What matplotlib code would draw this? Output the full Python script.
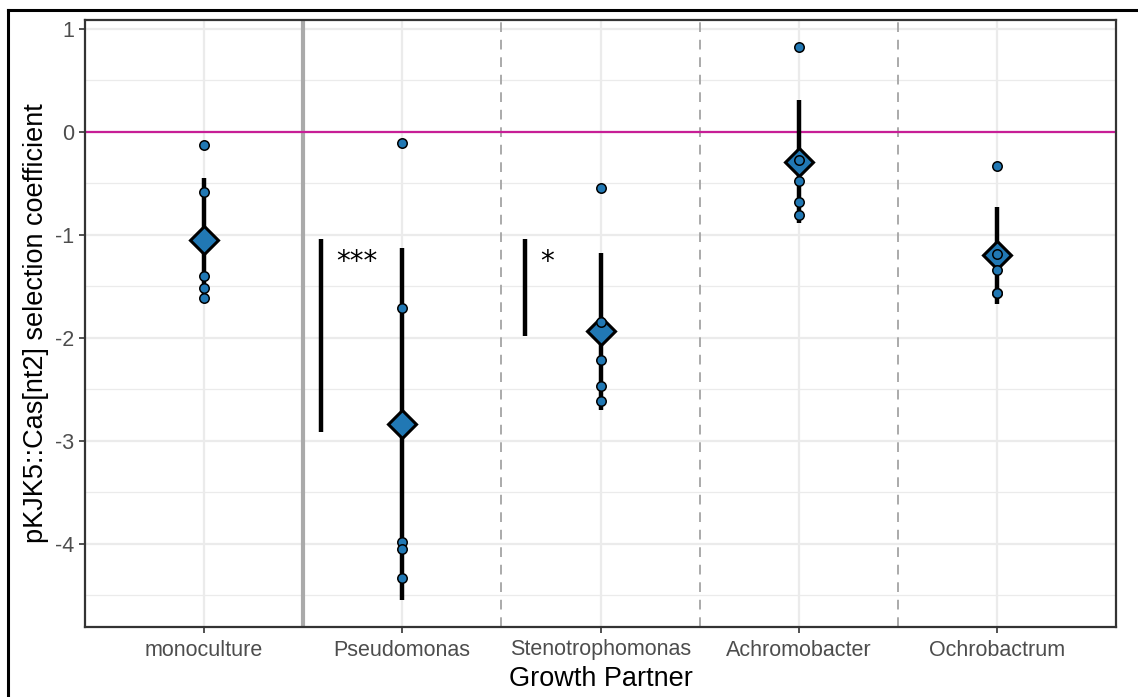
import matplotlib
matplotlib.use("Agg")
import matplotlib.pyplot as plt
from matplotlib.lines import Line2D
from matplotlib.ticker import MultipleLocator

plt.rcParams['font.family'] = ['Liberation Sans', 'DejaVu Sans']

# Growth partners (x categories)
categories = ["monoculture", "Pseudomonas", "Stenotrophomonas", "Achromobacter", "Ochrobactrum"]

# Replicate selection coefficients per partner
rep_monoculture = [-0.13, -0.59, -1.40, -1.52, -1.61]
rep_pseudomonas = [-0.11, -1.71, -3.98, -4.05, -4.33]
rep_stenotrophomonas = [-0.55, -1.85, -2.22, -2.47, -2.62]
rep_achromobacter = [0.82, -0.27, -0.48, -0.68, -0.81]
rep_ochrobactrum = [-0.33, -1.19, -1.34, -1.57, -1.57]

# Group means and error-bar half widths
group_means = [-1.05, -2.84, -1.94, -0.29, -1.20]
group_errors = [0.60, 1.71, 0.76, 0.60, 0.47]

# Significance brackets vs. monoculture
sig_x = [0.59, 1.62]
sig_low = [-2.92, -1.98]
sig_high = [-1.04, -1.04]
sig_labels = ["***", "*"]

replicates = [rep_monoculture, rep_pseudomonas, rep_stenotrophomonas,
              rep_achromobacter, rep_ochrobactrum]

W, H, DPI = 1138, 697, 100
fig = plt.figure(figsize=(W / DPI, H / DPI), dpi=DPI)
ax = fig.add_axes([85 / W, 1 - 627 / H, (1116 - 85) / W, (627 - 20) / H])

grid_c = "#EBEBEB"
ax.set_xlim(-0.6, len(categories) - 0.4)
ax.set_ylim(-4.81, 1.085)
ax.yaxis.set_major_locator(MultipleLocator(1))
ax.yaxis.set_minor_locator(MultipleLocator(0.5))
ax.set_xticks(range(len(categories)))
ax.set_xticklabels(categories)
ax.set_yticks([1, 0, -1, -2, -3, -4])
ax.set_yticklabels(["1", "0", "-1", "-2", "-3", "-4"])
ax.grid(which="major", color=grid_c, lw=1.6, zorder=0)
ax.grid(which="minor", axis="y", color=grid_c, lw=0.9, zorder=0)
ax.set_axisbelow(True)
ax.tick_params(which="minor", length=0)
ax.tick_params(which="major", length=4, width=1.2, color="#333333",
               labelcolor="#4D4D4D", labelsize=15.5, pad=4)
ax.tick_params(axis="x", pad=5)
for s in ax.spines.values():
    s.set_color("#333333")
    s.set_linewidth(1.6)

# Partition lines between groups
ax.axvline(0.5, color="#AAAAAA", lw=3, zorder=1)
for xv in [1.5, 2.5, 3.5]:
    ax.axvline(xv, color="#AAAAAA", lw=1.4, ls=(0, (5, 4)), zorder=1)

# Neutral selection reference
ax.axhline(0, color="#C71E96", lw=1.6, zorder=1)

fill = "#2178B4"
for i, vals in enumerate(replicates):
    m, e = group_means[i], group_errors[i]
    ax.plot([i, i], [m - e, m + e], color="black", lw=3.2,
            solid_capstyle="butt", zorder=2)
    ax.plot([i], [m], marker="D", ms=14, mfc=fill, mec="black", mew=2.2,
            ls="none", zorder=3)
    ax.plot([i] * len(vals), vals, marker="o", ms=6.8, mfc=fill, mec="black",
            mew=1.1, ls="none", zorder=4)

for x, lo, hi, lab in zip(sig_x, sig_low, sig_high, sig_labels):
    ax.plot([x, x], [lo, hi], color="black", lw=3.2, solid_capstyle="butt", zorder=2)
    ax.text(x + 0.075, -1.34, lab, ha="left", va="baseline", fontsize=20,
            family="DejaVu Sans", color="black", zorder=5)

ax.set_xlabel("Growth Partner", fontsize=19.5, color="black", labelpad=4)
ax.set_ylabel("pKJK5::Cas[nt2] selection coefficient", fontsize=19.5,
              color="black", labelpad=4)

# Outer frame
fig.add_artist(Line2D([8 / W, 8 / W], [0, 1 - 10 / H], transform=fig.transFigure,
                      color="black", lw=2.2))
fig.add_artist(Line2D([8 / W, 1], [1 - 10 / H, 1 - 10 / H], transform=fig.transFigure,
                      color="black", lw=2.2))

fig.savefig("out.png", dpi=DPI)
